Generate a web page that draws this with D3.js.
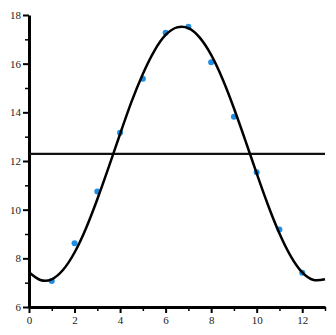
<!DOCTYPE html>
<html>
<head>
<meta charset="utf-8">
<script src="https://cdn.jsdelivr.net/npm/d3@7"></script>
<style>
  body { margin: 0; background: #fff; }
</style>
</head>
<body>
<div id="chart"></div>
<script>
// observed values (months)
var pointX = [1, 2, 3, 4, 5, 6, 7, 8, 9, 10, 11, 12];
var pointY = [7.07, 8.62, 10.75, 13.16, 15.38, 17.27, 17.52, 16.06, 13.82, 11.54, 9.19, 7.41];

// fitted curve
var curveX = [0, 0.5, 1, 1.5, 2, 2.5, 3, 3.5, 4, 4.5, 5, 5.5, 6, 6.5, 7, 7.5, 8, 8.5, 9, 9.5, 10, 10.5, 11, 11.5, 12, 12.5, 13];
var curveY = [7.43, 7.11, 7.14, 7.53, 8.24, 9.23, 10.43, 11.75, 13.11, 14.43, 15.58, 16.52, 17.18, 17.49, 17.46, 17.07, 16.36, 15.37, 14.17, 12.85, 11.49, 10.18, 9.02, 8.08, 7.42, 7.11, 7.14];

// mean line
var meanY = 12.29;

var xMajor = [0, 2, 4, 6, 8, 10, 12];
var xMinor = [1, 3, 5, 7, 9, 11, 13];
var yMajor = [6, 8, 10, 12, 14, 16, 18];
var yMinor = [7, 9, 11, 13, 15, 17];

var margin = {top: 15, right: 11, bottom: 28, left: 29},
    width = 336 - margin.left - margin.right,
    height = 335 - margin.top - margin.bottom;

var svg = d3.select("#chart")
  .append("svg")
    .attr("width", 336)
    .attr("height", 335)
  .append("g")
    .attr("transform", "translate(" + margin.left + "," + margin.top + ")");

var x = d3.scaleLinear().domain([0, 13]).range([0, width]);
var y = d3.scaleLinear().domain([6, 18]).range([height, 0]);

// minor ticks
svg.append("g")
  .attr("transform", "translate(0," + height + ")")
  .call(d3.axisBottom(x).tickValues(xMinor).tickSize(4).tickFormat(""))
  .call(function(g) { g.select(".domain").remove(); })
  .selectAll("line").attr("stroke-width", 1.5);
svg.append("g")
  .call(d3.axisLeft(y).tickValues(yMinor).tickSize(4).tickFormat(""))
  .call(function(g) { g.select(".domain").remove(); })
  .selectAll("line").attr("stroke-width", 1.5);

// major axes
var xAxis = svg.append("g")
  .attr("transform", "translate(0," + height + ")")
  .call(d3.axisBottom(x).tickValues(xMajor).tickSize(6).tickSizeOuter(0).tickPadding(3));
var yAxis = svg.append("g")
  .call(d3.axisLeft(y).tickValues(yMajor).tickSize(6).tickSizeOuter(0).tickPadding(2));

[xAxis, yAxis].forEach(function(g) {
  g.attr("font-family", "'Liberation Serif', 'Times New Roman', serif")
   .attr("font-size", 11);
  g.select(".domain").attr("stroke-width", 3);
  g.selectAll(".tick line").attr("stroke-width", 2);
  g.selectAll(".tick text").attr("fill", "#222");
});

// points
svg.selectAll("mycircle")
  .data(pointX)
  .enter()
  .append("circle")
    .attr("cx", function(d) { return x(d); })
    .attr("cy", function(d, i) { return y(pointY[i]); })
    .attr("r", 3)
    .attr("fill", "#1e8fe3");

// mean line
svg.append("line")
  .attr("x1", x(0))
  .attr("x2", x(13))
  .attr("y1", y(meanY))
  .attr("y2", y(meanY))
  .attr("stroke", "#111")
  .attr("stroke-width", 2.2);

// fitted curve
var line = d3.line()
  .x(function(d) { return x(d); })
  .y(function(d, i) { return y(curveY[i]); })
  .curve(d3.curveNatural);

svg.append("path")
  .datum(curveX)
  .attr("d", line)
  .attr("fill", "none")
  .attr("stroke", "#000")
  .attr("stroke-width", 2.5);
</script>
</body>
</html>
